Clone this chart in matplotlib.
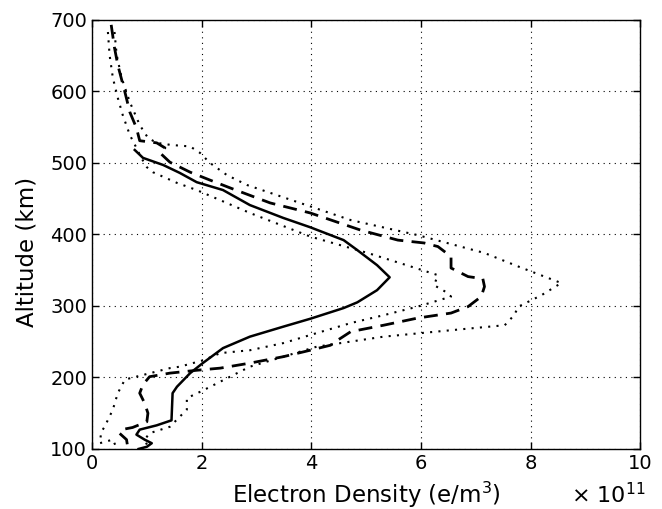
import matplotlib
matplotlib.use("Agg")
import matplotlib.pyplot as plt

# Electron density in units of 1e11 e/m^3, altitude in km
solid_x = [0.78, 0.93, 1.30, 1.60, 1.91, 2.39, 2.88, 3.49, 3.98, 4.59, 4.84, 5.20, 5.43,
           5.20, 4.84, 4.59, 3.98, 3.49, 2.88, 2.39, 2.02, 1.79, 1.55, 1.47, 1.45,
           1.18, 0.87, 0.81, 0.96, 1.09, 1.00, 0.85]
solid_y = [518, 507, 497, 486, 473, 462, 441, 423, 410, 392, 378, 357, 340,
           322, 305, 297, 282, 271, 257, 241, 220, 206, 187, 178, 140,
           133, 127, 120, 113, 108, 103, 100]

dashed_x = [0.35, 0.41, 0.47, 0.60, 0.69, 0.81, 0.87, 1.18, 1.33, 1.24, 1.42, 1.79, 2.15,
            2.52, 3.25, 3.98, 4.90, 5.58, 6.06, 6.31, 6.55, 6.55, 6.86, 7.13, 7.16,
            7.10, 6.86, 6.55, 5.94, 5.32, 4.72, 4.48, 4.35, 3.98, 3.49, 2.88, 2.34,
            1.91, 1.42, 1.05, 0.93, 0.87, 0.96, 1.02, 1.00, 0.74, 0.54, 0.50, 0.63,
            0.65, 0.60]
dashed_y = [693, 661, 637, 599, 571, 549, 531, 528, 521, 514, 501, 487, 476,
            465, 444, 430, 406, 392, 388, 383, 369, 353, 341, 338, 327,
            313, 299, 290, 283, 273, 264, 252, 245, 238, 229, 220, 213,
            210, 206, 201, 190, 178, 164, 150, 138, 130, 127, 122, 113,
            103, 100]

lower_x = [0.29, 0.32, 0.38, 0.47, 0.56, 0.69, 0.81, 0.90, 1.00, 1.11, 1.55, 1.91, 2.88,
           3.98, 5.03, 5.82, 6.31, 6.24, 6.49, 6.55, 5.94, 5.32, 4.72, 4.10, 3.49,
           2.88, 2.34, 2.03, 1.60, 1.42, 0.60, 0.47, 0.38, 0.23, 0.17, 0.14, 0.38,
           0.45]
lower_y = [683, 651, 619, 591, 567, 539, 521, 507, 494, 487, 472, 462, 430,
           397, 374, 355, 343, 329, 318, 313, 299, 287, 276, 262, 248,
           238, 234, 224, 215, 213, 197, 178, 155, 131, 124, 108, 113,
           101]

upper_x = [0.41, 0.45, 0.54, 0.69, 0.87, 1.02, 1.18, 1.45, 1.79, 1.97, 2.15, 2.46, 2.83,
           4.72, 5.94, 7.16, 7.78, 8.56, 8.20, 7.78, 7.70, 7.53, 6.55, 5.32, 4.10,
           2.88, 2.39, 2.03, 1.73, 1.73, 1.60, 1.42, 1.05, 0.96, 1.02]
upper_y = [683, 651, 619, 585, 553, 535, 528, 525, 523, 514, 500, 483, 469,
           420, 399, 374, 355, 332, 315, 299, 287, 273, 266, 257, 243,
           215, 196, 182, 171, 155, 145, 131, 122, 113, 103]

x_ticks = [0, 2, 4, 6, 8, 10]
y_ticks = [100, 200, 300, 400, 500, 600, 700]

plt.rcParams['font.family'] = ['DejaVu Sans']
fig = plt.figure(figsize=(6.62, 5.09), dpi=100)
ax = fig.add_axes([0.139, 0.118, 0.828, 0.843])

ax.plot(solid_x, solid_y, color='black', lw=1.8, ls='-')
ax.plot(dashed_x, dashed_y, color='black', lw=2.0, ls=(0, (5, 3)))
ax.plot(lower_x, lower_y, color='black', lw=1.5, ls=(0, (1, 3)))
ax.plot(upper_x, upper_y, color='black', lw=1.5, ls=(0, (1, 3)))

ax.set_xlim(0, 10)
ax.set_ylim(100, 700)
ax.set_xticks(x_ticks)
ax.set_yticks(y_ticks)
ax.set_xticklabels([str(v) for v in x_ticks])
ax.set_yticklabels([str(v) for v in y_ticks])
ax.tick_params(direction='in', top=True, right=True, labelsize=14, length=5, width=1)
ax.grid(True, color='black', ls=(0, (1, 4)), lw=0.8)
for s in ax.spines.values():
    s.set_linewidth(1.0)

ax.set_ylabel('Altitude (km)', fontsize=16.5)
ax.yaxis.set_label_coords(-0.098, 0.46)
ax.set_xlabel('Electron Density (e/m$^3$)', fontsize=16.5, labelpad=5)
fig.text(0.862, 0.012, r'$\times$ 10$^{11}$', fontsize=16, ha='left', va='baseline')

fig.savefig('out.png', dpi=100)
